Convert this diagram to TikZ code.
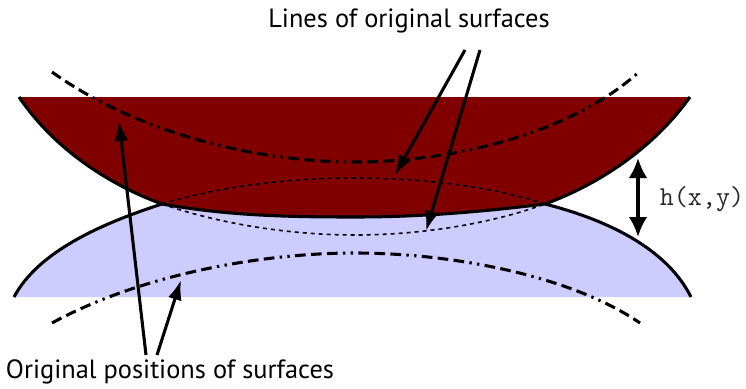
\documentclass[tikz,border=0pt]{standalone}
\usepackage{fontspec}
\setmainfont{PT Sans}
\usetikzlibrary{arrows.meta}
\definecolor{upperred}{RGB}{128,0,0}
\definecolor{lowerblue}{RGB}{204,204,255}
\tikzset{
  surface/.style={line width=2.3pt},
  original/.style={line width=2.3pt,dash pattern=on 8pt off 4pt on 8pt off 4pt on 8pt off 4pt on 1.8pt off 4pt on 1.8pt off 4pt},
  contact/.style={line width=1.2pt,dash pattern=on 3pt off 3pt},
  pointer/.style={line width=2.3pt,-{Latex[length=15pt,width=10.5pt]}},
  gaparrow/.style={line width=2.6pt,{Latex[length=15pt,width=14pt]}-{Latex[length=15pt,width=14pt]}},
  label/.style={font=\fontsize{19.8}{20}\selectfont,inner sep=0pt}
}
\begin{document}
\begin{tikzpicture}[x=.75pt,y=-.75pt]
  \useasboundingbox (0,0) rectangle (746,389);

  % bodies
  \fill[lowerblue] (14,297) .. controls (38,252) and (100,224) .. (162,204)
    -- (545,204) .. controls (600,218) and (665,245) .. (691,297) -- cycle;
  \fill[upperred] (19,97) .. controls (55,150) and (110,185) .. (162,204)
    .. controls (230,216) and (290,217) .. (355,217)
    .. controls (420,217) and (480,212) .. (545,204)
    .. controls (597,185) and (652,150) .. (690,97) -- cycle;

  % contact points and arrow ends
  \coordinate (cl) at (162,204);
  \coordinate (cr) at (545,204);
  \coordinate (lt1) at (465,50);
  \coordinate (lt2) at (480,50);
  \coordinate (lh1) at (395,175);
  \coordinate (lh2) at (426,231);
  \coordinate (ot1) at (146,355);
  \coordinate (ot2) at (157,355);
  \coordinate (oh1) at (119,121);
  \coordinate (oh2) at (181,280);
  \coordinate (gt) at (638,158);
  \coordinate (gb) at (638,237);

  % deformed surfaces
  \draw[surface] (19,97) .. controls (55,150) and (110,185) .. (cl)
    .. controls (230,216) and (290,217) .. (355,217)
    .. controls (420,217) and (480,212) .. (cr)
    .. controls (597,185) and (652,150) .. (690,97);
  \draw[surface] (14,297) .. controls (38,252) and (100,224) .. (cl);
  \draw[surface] (cr) .. controls (600,218) and (665,245) .. (691,297);

  % undeformed surfaces
  \draw[original] (52,72) .. controls (140,135) and (260,162) .. (355,162)
    .. controls (450,162) and (570,135) .. (640,71);
  \draw[original] (52,323) .. controls (140,275) and (260,253) .. (355,253)
    .. controls (450,253) and (570,275) .. (640,323);
  \draw[contact] (cl) .. controls (220,186) and (290,178) .. (355,178)
    .. controls (420,178) and (490,186) .. (cr);
  \draw[contact] (cl) .. controls (220,224) and (290,235) .. (355,235)
    .. controls (420,235) and (490,224) .. (cr);

  \foreach \from/\to in {lt1/lh1,lt2/lh2,ot1/oh1,ot2/oh2}
    \draw[pointer] (\from) -- (\to);
  \draw[gaparrow] (gt) -- (gb);

  \node[label] (lines) at (409,21) {Lines of original surfaces};
  \node[label] (orig) at (170,372) {Original positions of surfaces};
  \node[inner sep=0pt,font=\ttfamily\fontsize{20.5}{20.5}\selectfont,text=black!85] (gap) at (702,199) {h(x,y)};
\end{tikzpicture}
\end{document}
